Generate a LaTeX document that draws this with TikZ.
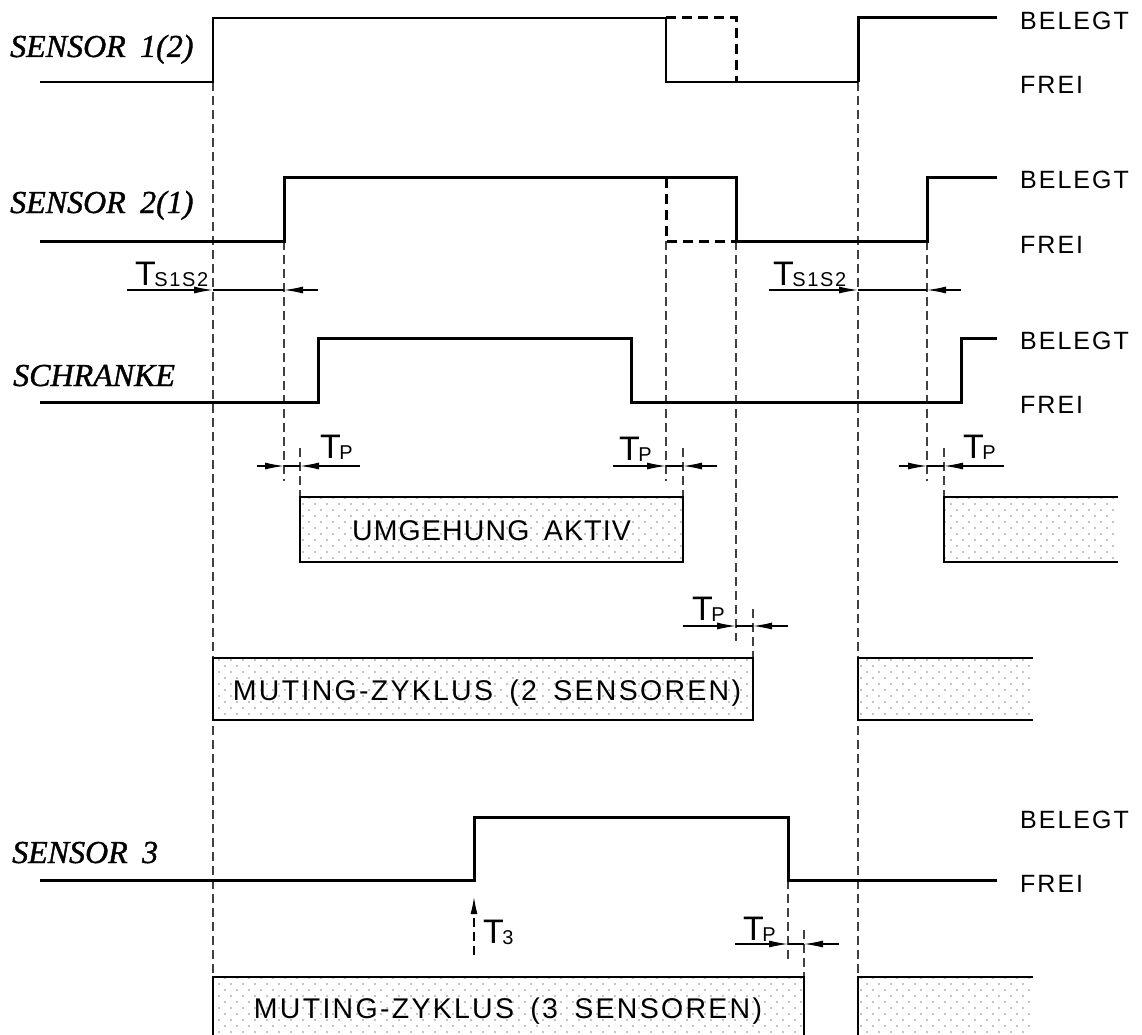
\documentclass[tikz,border=0pt]{standalone}
\usepackage{fontspec}
\setmainfont{Liberation Sans}
\newfontfamily\isofont[LetterSpace=8,WordSpace=1.6]{Liberation Sans}
\newfontfamily\isotight[LetterSpace=4,WordSpace=1.6]{Liberation Sans}
\newfontfamily\namefont[WordSpace=1.8,FakeBold=1.2]{Liberation Serif}
\usepackage{tikz}
\usetikzlibrary{arrows.meta,patterns}

\pgfdeclarepatternformonly{sparsedots}{\pgfpoint{-1pt}{-1pt}}{\pgfpoint{13pt}{13pt}}{\pgfpoint{12pt}{12pt}}{%
  \pgfpathcircle{\pgfpoint{3pt}{3pt}}{0.6pt}%
  \pgfpathcircle{\pgfpoint{9pt}{9pt}}{0.6pt}%
  \pgfusepath{fill}}

\tikzstyle{signal}=[line width=3pt, line join=miter]
\tikzstyle{signaldash}=[signal, dash pattern=on 10pt off 6pt]
\tikzstyle{guide}=[line width=1.2pt, black!75, dash pattern=on 9pt off 5pt]
\tikzstyle{dim}=[line width=1.2pt]
\tikzstyle{dimtip}=[dim, -{Latex[length=19pt,width=7pt]}]
\tikzstyle{boxline}=[line width=1.6pt, pattern=sparsedots]
\tikzstyle{signame}=[anchor=base west, inner sep=0pt, font=\namefont\itshape\fontsize{32}{32}\selectfont]
\tikzstyle{statetext}=[anchor=base west, inner sep=0pt, font=\isofont\fontsize{25}{25}\selectfont]
\tikzstyle{tlabel}=[anchor=base west, inner sep=0pt, font=\isofont\fontsize{34}{34}\selectfont]
\tikzstyle{boxtext}=[anchor=base, inner sep=0pt, font=\isofont\fontsize{28.5}{28.5}\selectfont]

\newcommand{\tsub}[1]{T\kern-1.5pt{\fontsize{20}{20}\selectfont\raisebox{-1.5pt}{#1}}}

\begin{document}
\begin{tikzpicture}[x=1pt, y=-1pt]
\useasboundingbox (0,0) rectangle (1142,1035);
\clip (0,0) rectangle (1142,1035);

% guide lines
\draw[guide] (213,82) -- (213,977);
\draw[guide] (284,241) -- (284,481);
\draw[guide] (300,448) -- (300,497);
\draw[guide] (666,241) -- (666,481);
\draw[guide] (683,448) -- (683,497);
\draw[guide] (736,241) -- (736,641);
\draw[guide] (753,609) -- (753,658);
\draw[guide] (858,82) -- (858,977);
\draw[guide] (927,241) -- (927,481);
\draw[guide] (944,448) -- (944,497);
\draw[guide] (788,880) -- (788,960);
\draw[guide] (804,930) -- (804,977);

% sensor 1(2)
\node[signame] (s1) at (10,57) {SENSOR 1(2)};
\draw[signal, line width=2pt] (40,82) -- (213,82) -- (213,18) -- (666,18) -- (666,82) -- (858,82);
\draw[signal] (858,82) -- (858,18) -- (997,18);
\draw[signaldash] (666,18) -- (736,18) -- (736,82);
\node[statetext] (s1on) at (1020,30) {BELEGT};
\node[statetext] (s1off) at (1020,94) {FREI};

% sensor 2(1)
\node[signame] (s2) at (10,213) {SENSOR 2(1)};
\draw[signal] (40,241) -- (284,241) -- (284,178) -- (736,178) -- (736,241) -- (927,241) -- (927,178) -- (997,178);
\draw[signaldash] (666,178) -- (666,241) -- (736,241);
\node[statetext] (s2on) at (1020,189) {BELEGT};
\node[statetext] (s2off) at (1020,253) {FREI};

% T_S1S2
\draw[dimtip] (127,290) -- (213,290);
\draw[dim] (213,290) -- (284,290);
\draw[dimtip] (318,290) -- (284,290);
\node[tlabel] (ts1) at (135,285) {\tsub{S1S2}};
\draw[dimtip] (769,290) -- (858,290);
\draw[dim] (858,290) -- (927,290);
\draw[dimtip] (961,290) -- (927,290);
\node[tlabel] (ts2) at (773,285) {\tsub{S1S2}};

% schranke
\node[signame] (sc) at (13,386) {SCHRANKE};
\draw[signal] (40,402) -- (318,402) -- (318,338) -- (631,338) -- (631,402) -- (961,402) -- (961,338) -- (997,338);
\node[statetext] (scon) at (1020,349) {BELEGT};
\node[statetext] (scoff) at (1020,413) {FREI};

% T_P
\draw[dimtip] (257,466) -- (284,466);
\draw[dim] (284,466) -- (300,466);
\draw[dimtip] (360,466) -- (300,466);
\node[tlabel] (tp1) at (320,458) {\tsub{P}};
\draw[dimtip] (613,466) -- (666,466);
\draw[dim] (666,466) -- (683,466);
\draw[dimtip] (717,466) -- (683,466);
\node[tlabel] (tp2) at (619,460) {\tsub{P}};
\draw[dimtip] (899,466) -- (927,466);
\draw[dim] (927,466) -- (944,466);
\draw[dimtip] (1004,466) -- (944,466);
\node[tlabel] (tp3) at (963,458) {\tsub{P}};

% umgehung
\draw[boxline] (300,497) rectangle (683,562);
\node[boxtext, font=\isotight\fontsize{28.5}{28.5}\selectfont] (bypass) at (491.5,540) {UMGEHUNG AKTIV};
\fill[pattern=sparsedots] (944,497) rectangle (1118,562);
\draw[line width=1.6pt] (1118,497) -- (944,497) -- (944,562) -- (1118,562);

% muting 2 sensoren
\draw[dimtip] (683,626) -- (736,626);
\draw[dim] (736,626) -- (753,626);
\draw[dimtip] (788,626) -- (753,626);
\node[tlabel] (tp4) at (692,620) {\tsub{P}};
\draw[boxline] (213,658) rectangle (753,720);
\node[boxtext] (cycle2) at (487,700) {MUTING-ZYKLUS (2 SENSOREN)};
\fill[pattern=sparsedots] (858,658) rectangle (1033,720);
\draw[line width=1.6pt] (1033,658) -- (858,658) -- (858,720) -- (1033,720);

% sensor 3
\node[signame] (s3) at (12,863) {SENSOR 3};
\draw[signal] (40,880) -- (474,880) -- (474,817) -- (788,817) -- (788,880) -- (997,880);
\node[statetext] (s3on) at (1020,828) {BELEGT};
\node[statetext] (s3off) at (1020,892) {FREI};
\draw[guide, black, -{Latex[length=17pt,width=7pt]}] (474,955) -- (474,897);
\node[tlabel] (t3) at (483,943) {\tsub{3}};
\draw[dimtip] (735,944) -- (788,944);
\draw[dim] (788,944) -- (804,944);
\draw[dimtip] (839,944) -- (804,944);
\node[tlabel] (tp5) at (743,940) {\tsub{P}};

% muting 3 sensoren
\draw[boxline] (213,977) rectangle (804,1042);
\node[boxtext] (cycle3) at (508,1018) {MUTING-ZYKLUS (3 SENSOREN)};
\fill[pattern=sparsedots] (858,977) rectangle (1033,1042);
\draw[line width=1.6pt] (1033,977) -- (858,977) -- (858,1042);

\end{tikzpicture}
\end{document}
